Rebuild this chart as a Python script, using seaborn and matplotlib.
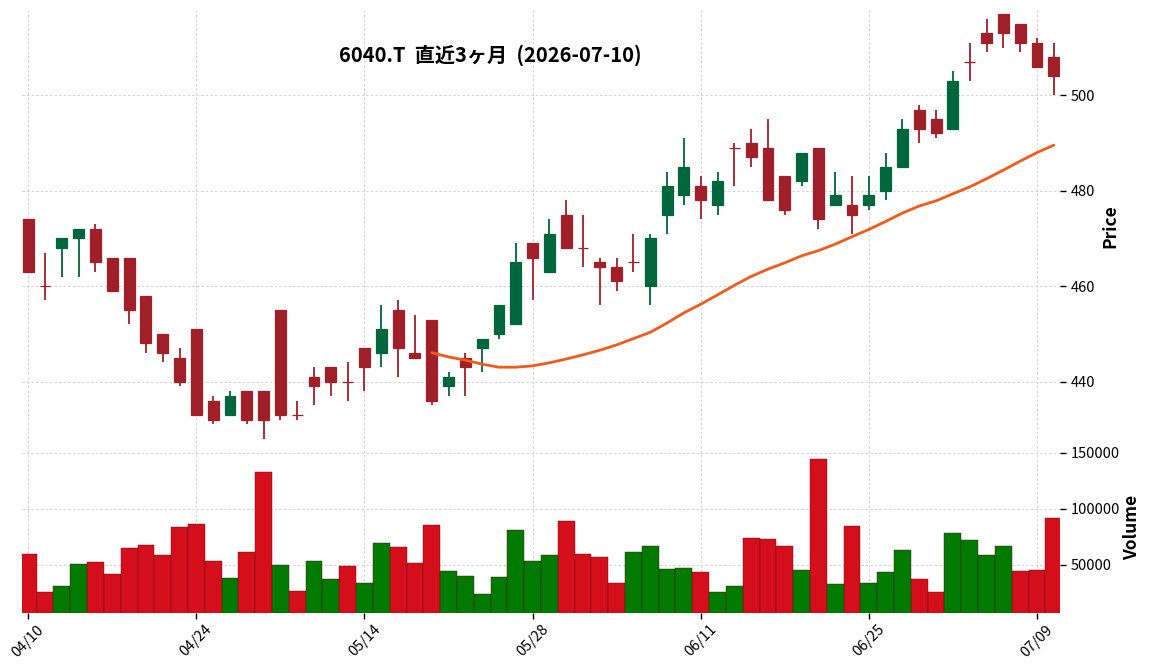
import numpy as np
import pandas as pd
import matplotlib
matplotlib.use("Agg")
import matplotlib.pyplot as plt
import seaborn as sns

# ---------------- data ----------------
title = "6040.T  直近3ヶ月  (2026-07-10)"
holidays = ["2026-04-29", "2026-05-04", "2026-05-05", "2026-05-06"]

opens = [474, 460, 468, 470, 472, 466, 466, 458, 450, 445,
         451, 436, 433, 438, 438, 455, 433, 441, 443, 440,
         447, 446, 455, 446, 453, 439, 445, 447, 450, 452,
         469, 463, 475, 468, 465, 464, 465, 460, 475, 479,
         481, 477, 489, 490, 489, 483, 482, 489, 477, 477,
         477, 480, 485, 497, 495, 493, 507, 513, 517, 515,
         511, 508]
highs = [474, 467, 470, 472, 473, 466, 466, 458, 450, 447,
         451, 437, 438, 438, 438, 455, 436, 443, 443, 444,
         447, 456, 457, 454, 453, 442, 446, 449, 456, 469,
         469, 474, 478, 475, 466, 466, 471, 471, 484, 491,
         483, 484, 490, 493, 495, 483, 488, 489, 484, 483,
         483, 488, 495, 498, 497, 505, 511, 516, 517, 515,
         512, 511]
lows = [463, 457, 462, 462, 463, 459, 452, 446, 444, 439,
        433, 431, 433, 431, 428, 432, 432, 435, 437, 436,
        438, 443, 441, 445, 435, 437, 437, 442, 449, 452,
        457, 463, 468, 464, 456, 459, 463, 456, 471, 477,
        474, 475, 481, 485, 478, 475, 481, 472, 477, 471,
        476, 478, 485, 490, 491, 493, 503, 509, 510, 509,
        506, 500]
closes = [463, 460, 470, 472, 465, 459, 455, 448, 446, 440,
          433, 432, 437, 432, 432, 433, 433, 439, 440, 440,
          443, 451, 447, 445, 436, 441, 443, 449, 456, 465,
          466, 471, 468, 468, 464, 461, 465, 470, 481, 485,
          478, 482, 489, 487, 478, 476, 488, 474, 479, 475,
          479, 485, 493, 493, 492, 503, 507, 511, 513, 511,
          506, 504]
volumes = [60000, 25700, 31000, 50300, 52000, 41500, 65200, 67800, 59100, 83600,
           86300, 52900, 38000, 61700, 132700, 49400, 26600, 52900, 37100, 48500,
           33600, 69600, 66100, 51200, 85400, 44200, 39800, 24000, 38900, 81000,
           52900, 59100, 88900, 60000, 57300, 33600, 61700, 67000, 45900, 46800,
           43300, 25700, 31000, 74000, 73100, 67000, 45000, 144200, 32700, 84500,
           33600, 43300, 63500, 37100, 25700, 78400, 72200, 59100, 67000, 44200,
           45000, 91500]
mav_window = 25

# ---------------- derived ----------------
dates = pd.bdate_range("2026-04-10", "2026-07-10", freq="C", holidays=holidays)
n = len(closes)
idx = np.arange(n)
O, H, L, C, V = map(np.asarray, (opens, highs, lows, closes, volumes))
ma = pd.Series(C, dtype=float).rolling(mav_window).mean()

candle_up, candle_dn = "#00663d", "#a01f29"
vol_up, vol_dn = "#007a00", "#d40f1b"
ma_color = "#f25a18"

prev_close = np.concatenate([[O[0]], C[:-1]])
vol_dir = np.where(C > prev_close, "up", "down")
cndl_colors = [candle_up if c > o else candle_dn for o, c in zip(O, C)]

sns.set_theme(style="white")
plt.rcParams["font.family"] = ["Noto Sans CJK JP", "DejaVu Sans"]
plt.rcParams.update({"text.color": "black", "axes.labelcolor": "black",
                     "xtick.color": "black", "ytick.color": "black"})

fig = plt.figure(figsize=(11.52, 6.70), dpi=100)
ax = fig.add_axes([22 / 1152, 1 - 443 / 670, 1038 / 1152, 433 / 670])
axv = fig.add_axes([22 / 1152, 1 - 612.7 / 670, 1038 / 1152, 169.7 / 670], sharex=ax)

# candles
ax.vlines(idx, L, H, colors=cndl_colors, linewidth=1.3, zorder=2)
ax.bar(idx, np.abs(C - O), bottom=np.minimum(O, C), width=0.65,
       color=cndl_colors, edgecolor=cndl_colors, linewidth=0.9, zorder=3)
sns.lineplot(x=idx[mav_window - 1:], y=ma.values[mav_window - 1:], color=ma_color,
             linewidth=2.0, ax=ax, zorder=4)

# volume
vdf = pd.DataFrame({"i": idx, "vol": V, "dir": vol_dir})
sns.barplot(data=vdf, x="i", y="vol", hue="dir", palette={"up": vol_up, "down": vol_dn},
            native_scale=True, width=1.0, dodge=False, legend=False, errorbar=None,
            edgecolor="#5a1010", linewidth=0.3, saturation=1, ax=axv)

# limits
lo, hi = L.min(), H.max()
d = 0.01 * (hi - lo)
ax.set_ylim(lo - d, hi + d)
axv.set_ylim(0.3 * V.min(), 1.1 * V.max())
ax.set_xlim(-0.37, n - 1 + 0.37)

tick_pos = idx[::10]
tick_lab = [dates[i].strftime("%m/%d") for i in tick_pos]
axv.set_xticks(tick_pos)
axv.set_xticklabels(tick_lab, rotation=45, ha="center", fontsize=10.5)
ax.set_yticks([440, 460, 480, 500])
axv.set_yticks([50000, 100000, 150000])

for a in (ax, axv):
    a.yaxis.tick_right()
    a.yaxis.set_label_position("right")
    for s in a.spines.values():
        s.set_visible(False)
    a.grid(True, linestyle=(0, (3, 2.5)), color="#cccccc", linewidth=0.6)
    a.set_axisbelow(True)
    a.tick_params(axis="y", which="both", right=True, length=4, width=1, color="black",
                  labelsize=10.5, pad=4)
ax.tick_params(axis="x", bottom=False, labelbottom=False)
axv.tick_params(axis="x", bottom=True, length=4, width=1, color="black", pad=3)
axv.set_xlabel("")
ax.set_xlabel("")
ax.set_ylabel("Price", fontsize=12.5, fontweight="bold", labelpad=4)
axv.set_ylabel("Volume", fontsize=12.5, fontweight="bold", labelpad=2)
axv.yaxis.set_major_formatter(matplotlib.ticker.FuncFormatter(lambda v, p: f"{int(v)}"))

fig.text(490 / 1152, 1 - 55 / 670, title, ha="center", va="center",
         fontsize=14.5, fontweight="bold")

fig.savefig("out.png", dpi=100)
